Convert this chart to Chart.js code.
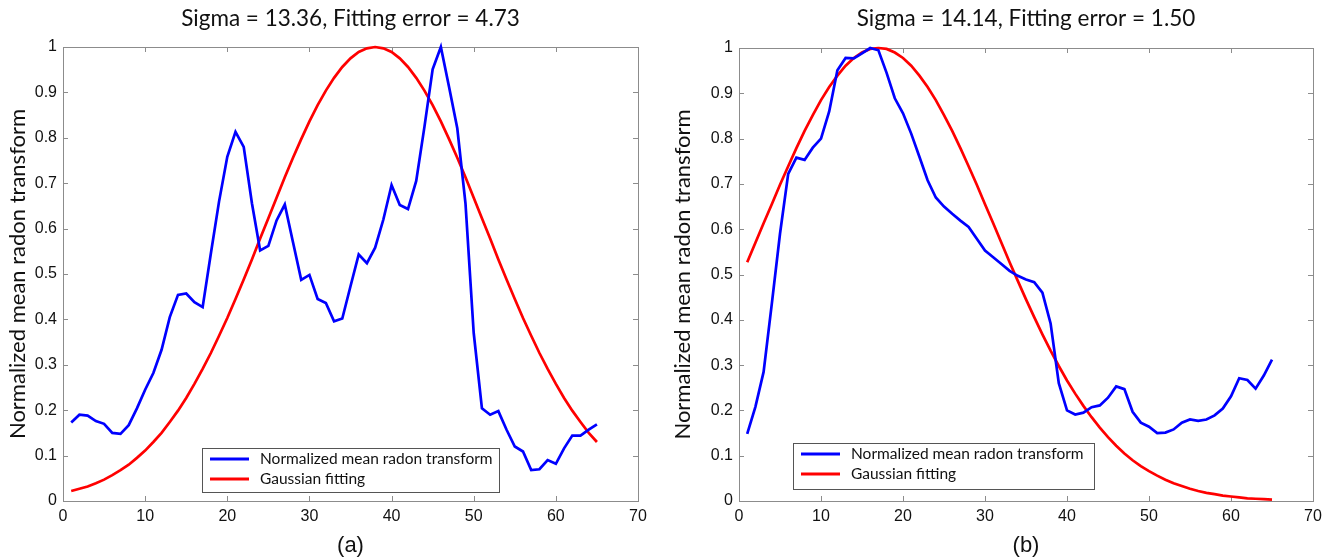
<!DOCTYPE html>
<html>
<head>
<meta charset="utf-8">
<script src="https://cdn.jsdelivr.net/npm/chart.js@4/dist/chart.umd.min.js"></script>
<style>
  body { margin: 0; background: #fff; }
  .panel { position: absolute; top: 0; width: 665px; height: 560px; }
</style>
</head>
<body>
<div class="panel" style="left:0"><canvas id="chartA"></canvas></div>
<div class="panel" style="left:665px"><canvas id="chartB"></canvas></div>
<script>
// sample positions (x axis)
const positions = [1, 2, 3, 4, 5, 6, 7, 8, 9, 10, 11, 12, 13, 14, 15, 16, 17, 18, 19, 20,
  21, 22, 23, 24, 25, 26, 27, 28, 29, 30, 31, 32, 33, 34, 35, 36, 37, 38, 39, 40,
  41, 42, 43, 44, 45, 46, 47, 48, 49, 50, 51, 52, 53, 54, 55, 56, 57, 58, 59, 60,
  61, 62, 63, 64, 65];

// panel (a)
const radonA = [0.173, 0.190, 0.188, 0.176, 0.170, 0.150, 0.148, 0.167, 0.204, 0.245,
  0.282, 0.333, 0.405, 0.454, 0.457, 0.438, 0.427, 0.545, 0.660, 0.758,
  0.813, 0.780, 0.656, 0.552, 0.562, 0.618, 0.653, 0.570, 0.487, 0.498,
  0.445, 0.436, 0.396, 0.402, 0.473, 0.543, 0.524, 0.558, 0.620, 0.696,
  0.652, 0.643, 0.705, 0.824, 0.951, 1.000, 0.912, 0.821, 0.655, 0.370,
  0.204, 0.190, 0.198, 0.157, 0.120, 0.109, 0.068, 0.070, 0.090, 0.082,
  0.116, 0.144, 0.144, 0.157, 0.169];
const gaussA = [0.022, 0.027, 0.032, 0.039, 0.047, 0.057, 0.068, 0.080, 0.095, 0.111,
  0.130, 0.150, 0.174, 0.199, 0.227, 0.258, 0.291, 0.326, 0.364, 0.403,
  0.445, 0.488, 0.532, 0.578, 0.623, 0.668, 0.713, 0.756, 0.797, 0.836,
  0.872, 0.904, 0.932, 0.956, 0.975, 0.989, 0.997, 1.000, 0.997, 0.989,
  0.975, 0.956, 0.932, 0.904, 0.872, 0.836, 0.797, 0.756, 0.713, 0.668,
  0.623, 0.578, 0.532, 0.488, 0.445, 0.403, 0.364, 0.326, 0.291, 0.258,
  0.227, 0.199, 0.174, 0.150, 0.130];

// panel (b)
const radonB = [0.148, 0.208, 0.285, 0.435, 0.590, 0.722, 0.758, 0.753, 0.780, 0.800,
  0.860, 0.951, 0.978, 0.977, 0.988, 1.000, 0.995, 0.945, 0.889, 0.856,
  0.811, 0.760, 0.708, 0.670, 0.650, 0.634, 0.619, 0.605, 0.579, 0.553,
  0.538, 0.523, 0.508, 0.497, 0.489, 0.483, 0.460, 0.392, 0.260, 0.200,
  0.191, 0.195, 0.207, 0.211, 0.228, 0.253, 0.247, 0.197, 0.173, 0.164,
  0.150, 0.151, 0.158, 0.173, 0.180, 0.177, 0.180, 0.189, 0.204, 0.231,
  0.271, 0.267, 0.248, 0.277, 0.312];
const gaussB = [0.527, 0.570, 0.613, 0.655, 0.698, 0.739, 0.779, 0.817, 0.852, 0.885,
  0.914, 0.939, 0.961, 0.978, 0.990, 0.998, 1.000, 0.998, 0.990, 0.978,
  0.961, 0.939, 0.914, 0.885, 0.852, 0.817, 0.779, 0.739, 0.698, 0.655,
  0.613, 0.570, 0.527, 0.486, 0.445, 0.406, 0.368, 0.332, 0.298, 0.266,
  0.237, 0.210, 0.185, 0.162, 0.141, 0.122, 0.105, 0.090, 0.077, 0.066,
  0.056, 0.047, 0.039, 0.033, 0.027, 0.022, 0.018, 0.015, 0.012, 0.010,
  0.008, 0.006, 0.005, 0.004, 0.003];

const xTicks = [0, 10, 20, 30, 40, 50, 60, 70];
const yTicks = [0, 0.1, 0.2, 0.3, 0.4, 0.5, 0.6, 0.7, 0.8, 0.9, 1];
const seriesNames = ["Normalized mean radon transform", "Gaussian fitting"];

const textFont = "Lato, 'Open Sans', sans-serif";
const tickFont = "'Liberation Sans', Arial, sans-serif";

// MATLAB style box with inward tick marks on all four sides
const boxAxes = {
  id: "boxAxes",
  beforeDatasetsDraw(chart) {
    const { ctx, chartArea: a, scales: { x, y } } = chart;
    ctx.save();
    ctx.strokeStyle = "#8c8c8c";
    ctx.lineWidth = 1;
    ctx.strokeRect(a.left + 0.5, a.top + 0.5, a.right - a.left, a.bottom - a.top);
    ctx.beginPath();
    xTicks.forEach(v => {
      const px = Math.round(x.getPixelForValue(v)) + 0.5;
      ctx.moveTo(px, a.bottom); ctx.lineTo(px, a.bottom - 5);
      ctx.moveTo(px, a.top); ctx.lineTo(px, a.top + 5);
    });
    yTicks.forEach(v => {
      const py = Math.round(y.getPixelForValue(v)) + 0.5;
      ctx.moveTo(a.left, py); ctx.lineTo(a.left + 5, py);
      ctx.moveTo(a.right, py); ctx.lineTo(a.right - 5, py);
    });
    ctx.stroke();
    ctx.restore();
  }
};

// legend box placed inside the plot
const boxLegend = {
  id: "boxLegend",
  afterDraw(chart, args, opts) {
    const { ctx } = chart;
    ctx.save();
    ctx.fillStyle = "#fff";
    ctx.fillRect(opts.x, opts.y, opts.w, opts.h);
    ctx.strokeStyle = "#555";
    ctx.lineWidth = 1;
    ctx.strokeRect(opts.x + 0.5, opts.y + 0.5, opts.w, opts.h);
    ctx.font = "15.5px " + textFont;
    ctx.textBaseline = "middle";
    ctx.fillStyle = "#111";
    chart.data.datasets.forEach((ds, i) => {
      const ry = opts.y + 11 + i * 20;
      ctx.strokeStyle = ds.borderColor;
      ctx.lineWidth = 3;
      ctx.beginPath();
      ctx.moveTo(opts.x + 8, ry);
      ctx.lineTo(opts.x + 47, ry);
      ctx.stroke();
      ctx.fillText(ds.label, opts.x + 58, ry);
    });
    ctx.restore();
  }
};

function makeChart(id, title, caption, radon, gauss, yWidth, padRight, padTitle, legendBox) {
  const ctx = document.getElementById(id).getContext("2d");
  return new Chart(ctx, {
    type: "line",
    data: {
      datasets: [
        {
          label: seriesNames[0],
          data: positions.map((p, i) => ({ x: p, y: radon[i] })),
          borderColor: "#0000ff",
          borderWidth: 2.7,
          pointRadius: 0,
          tension: 0,
          clip: false
        },
        {
          label: seriesNames[1],
          data: positions.map((p, i) => ({ x: p, y: gauss[i] })),
          borderColor: "#ff0000",
          borderWidth: 2.7,
          pointRadius: 0,
          tension: 0,
          clip: false
        }
      ]
    },
    options: {
      responsive: true,
      maintainAspectRatio: false,
      animation: false,
      layout: { padding: { left: 0, right: padRight, top: 0, bottom: 0 } },
      plugins: {
        legend: { display: false },
        tooltip: { enabled: false },
        title: {
          display: true,
          fullSize: false,
          text: title,
          color: "#111",
          font: { family: textFont, size: 22.5, weight: "normal" },
          padding: { top: 5, bottom: padTitle }
        },
        boxLegend: legendBox
      },
      scales: {
        x: {
          type: "linear",
          min: 0,
          max: 70,
          afterBuildTicks: s => { s.ticks = xTicks.map(v => ({ value: v })); },
          afterFit: s => { s.height = 59; },
          grid: { display: false, drawTicks: false },
          border: { display: false },
          ticks: {
            autoSkip: false,
            maxRotation: 0,
            padding: 6,
            color: "#111",
            font: { family: tickFont, size: 16 }
          },
          title: {
            display: true,
            text: caption,
            color: "#111",
            font: { family: tickFont, size: 22 },
            padding: { top: 0, bottom: 1 }
          }
        },
        y: {
          type: "linear",
          min: 0,
          max: 1,
          afterBuildTicks: s => { s.ticks = yTicks.map(v => ({ value: v })); },
          afterFit: s => { s.width = yWidth; },
          grid: { display: false, drawTicks: false },
          border: { display: false },
          ticks: {
            padding: 6,
            color: "#111",
            font: { family: tickFont, size: 16 },
            callback: v => String(+v.toFixed(1))
          },
          title: {
            display: true,
            text: "Normalized mean radon transform",
            color: "#111",
            font: { family: textFont, size: 22 },
            padding: { top: 5, bottom: 0 }
          }
        }
      }
    },
    plugins: [boxAxes, boxLegend]
  });
}

makeChart("chartA", "Sigma = 13.36, Fitting error = 4.73", "(a)", radonA, gaussA,
  63, 27, 15, { x: 202, y: 448, w: 297, h: 44 });
makeChart("chartB", "Sigma = 14.14, Fitting error = 1.50", "(b)", radonB, gaussB,
  74, 17, 16, { x: 128, y: 443, w: 301, h: 46 });
</script>
</body>
</html>
